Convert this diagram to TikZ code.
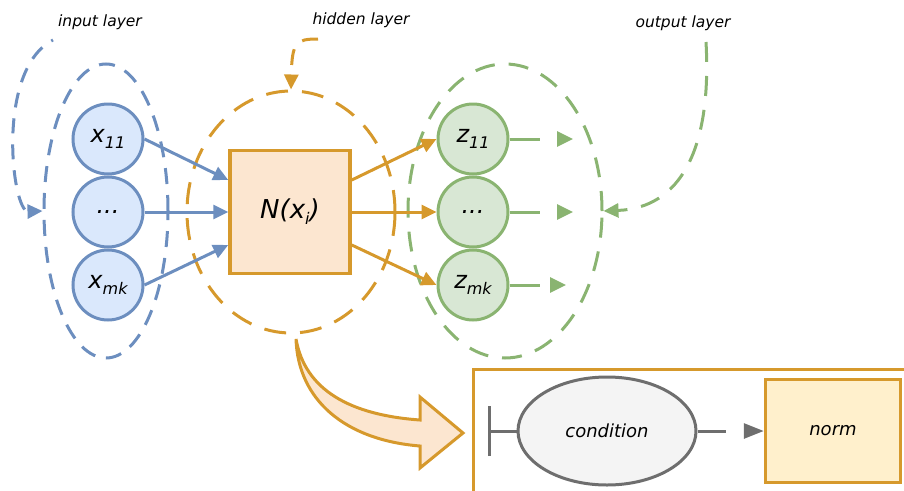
\documentclass[tikz,border=0pt]{standalone}
\usepackage{fontspec}
\setmainfont{DejaVu Sans}
\usetikzlibrary{arrows.meta}
\usetikzlibrary{shapes.geometric}
\definecolor{inblue}{HTML}{6C8EBF}
\definecolor{infill}{HTML}{DAE8FC}
\definecolor{hidorange}{HTML}{D6992C}
\definecolor{hidfill}{HTML}{FCE6D0}
\definecolor{outgreen}{HTML}{8AB471}
\definecolor{outfill}{HTML}{D8E7D4}
\definecolor{condgray}{HTML}{6E6E6E}
\definecolor{condfill}{HTML}{F4F4F4}
\definecolor{normfill}{HTML}{FFF0CC}
\newcommand{\lowidx}[1]{\raisebox{-6pt}{\fontsize{16}{16}\selectfont #1}}

\tikzset{
  neuron/.style={circle, line width=3pt, minimum size=70pt, inner sep=0pt,
    font=\fontsize{24}{24}\selectfont\itshape},
  layer/.style={ellipse, line width=3pt, inner sep=0pt},
  lbl/.style={font=\fontsize{15.5}{15.5}\selectfont\itshape},
}

\begin{document}
\begin{tikzpicture}[x=1pt,y=-1pt]
    \clip (0,0) rectangle (904,490);
    % dashed layer outlines
    \node[layer, draw=inblue, minimum width=124pt, minimum height=294pt,
      dash pattern=on 16pt off 11pt] (inlayer) at (106,211) {};
    \node[layer, draw=hidorange, minimum width=208pt, minimum height=242pt,
      dash pattern=on 22pt off 14pt] (hidlayer) at (291,212) {};
    \node[layer, draw=outgreen, minimum width=194pt, minimum height=294pt,
      dash pattern=on 20pt off 14pt] (outlayer) at (505,211) {};

    \node[lbl] (inlbl) at (100,22) {input layer};
    \node[lbl] (hidlbl) at (361,20) {hidden layer};
    \node[lbl] (outlbl) at (683,23) {output layer};
    \coordinate (instart) at (53,40);
    \coordinate (hidstart) at (318,39);
    \coordinate (outstart) at (706,42);
    \draw[inblue, line width=3pt, dash pattern=on 15pt off 11pt, dash phase=13pt,
      -{Triangle[length=15pt,width=14pt]}]
      (instart) .. controls (-5,70) and (12,212) .. (inlayer.west);
    \draw[hidorange, line width=3pt, dash pattern=on 16pt off 12pt,
      -{Triangle[length=15pt,width=14pt]}]
      (hidstart) .. controls (296,39) and (292,42) .. (hidlayer.north);
    \draw[outgreen, line width=3pt, dash pattern=on 20pt off 14pt,
      -{Triangle[length=15pt,width=14pt]}]
      (outstart) .. controls (712,150) and (680,208) .. (outlayer.east);

    % hidden unit
    \node[draw=hidorange, fill=hidfill, line width=3.5pt, minimum width=120pt,
      minimum height=123pt, font=\fontsize{26}{26}\selectfont\itshape]
      (nbox) at (290,212) {N(x\lowidx{i})};

    % input and output neurons
    \node[neuron, draw=inblue, fill=infill] (x11) at (108,139) {x\lowidx{11}};
    \node[neuron, draw=inblue, fill=infill] (xdots) at (108,212) {...};
    \node[neuron, draw=inblue, fill=infill] (xmk) at (108,285) {x\lowidx{mk}};
    \node[neuron, draw=outgreen, fill=outfill] (z11) at (473,139) {z\lowidx{11}};
    \node[neuron, draw=outgreen, fill=outfill] (zdots) at (473,212) {...};
    \node[neuron, draw=outgreen, fill=outfill] (zmk) at (473,285) {z\lowidx{mk}};

    \draw[inblue, line width=3pt, -{Triangle[length=15pt,width=14pt]}] (x11.east) -- ([yshift=32pt]nbox.west);
    \draw[inblue, line width=3pt, -{Triangle[length=15pt,width=14pt]}] (xdots.east) -- (nbox.west);
    \draw[inblue, line width=3pt, -{Triangle[length=15pt,width=14pt]}] (xmk.east) -- ([yshift=-33pt]nbox.west);
    \draw[hidorange, line width=3pt, -{Triangle[length=15pt,width=14pt]}] ([yshift=32pt]nbox.east) -- (z11.west);
    \draw[hidorange, line width=3pt, -{Triangle[length=15pt,width=14pt]}] (nbox.east) -- (zdots.west);
    \draw[hidorange, line width=3pt, -{Triangle[length=15pt,width=14pt]}] ([yshift=-33pt]nbox.east) -- (zmk.west);

    \coordinate (o1) at (573,139);
    \coordinate (o2) at (573,212);
    \coordinate (o3) at (566,285);
    \draw[outgreen, line width=3pt, dash pattern=on 30pt off 19pt, -{Triangle[length=16pt,width=15pt]}] (z11.east) -- (o1);
    \draw[outgreen, line width=3pt, dash pattern=on 30pt off 19pt, -{Triangle[length=16pt,width=15pt]}] (zdots.east) -- (o2);
    \draw[outgreen, line width=3pt, dash pattern=on 30pt off 12pt, -{Triangle[length=16pt,width=15pt]}] (zmk.east) -- (o3);

    % curved block arrow
    \draw[hidorange, fill=hidfill, line width=3pt, line join=miter]
      (296,339) .. controls (305,390) and (350,415) .. (420,420)
      -- (420,397) -- (463,433) -- (420,468) -- (420,446)
      .. controls (345,440) and (298,400) .. (296,339) -- cycle;

    % detail panel
    \draw[hidorange, line width=3pt] (473,369) rectangle (930,520);
    \node[ellipse, draw=condgray, fill=condfill, line width=3pt, minimum width=178pt,
      minimum height=108pt, font=\fontsize{18}{18}\selectfont\itshape] (cond) at (607,431) {condition};
    \node[draw=hidorange, fill=normfill, line width=3.5pt, minimum width=135pt,
      minimum height=103pt, font=\fontsize{18}{18}\selectfont\itshape] (norm) at (833,431) {norm};
    \coordinate (stop) at (488,431);
    \draw[condgray, line width=3pt, -{Bar[width=50pt]}] (cond.west) -- (stop);
    \draw[condgray, line width=3pt, dash pattern=on 28pt off 30pt,
      -{Triangle[length=20pt,width=15pt]}] (cond.east) -- (norm.west);
  \end{tikzpicture}
\end{document}
